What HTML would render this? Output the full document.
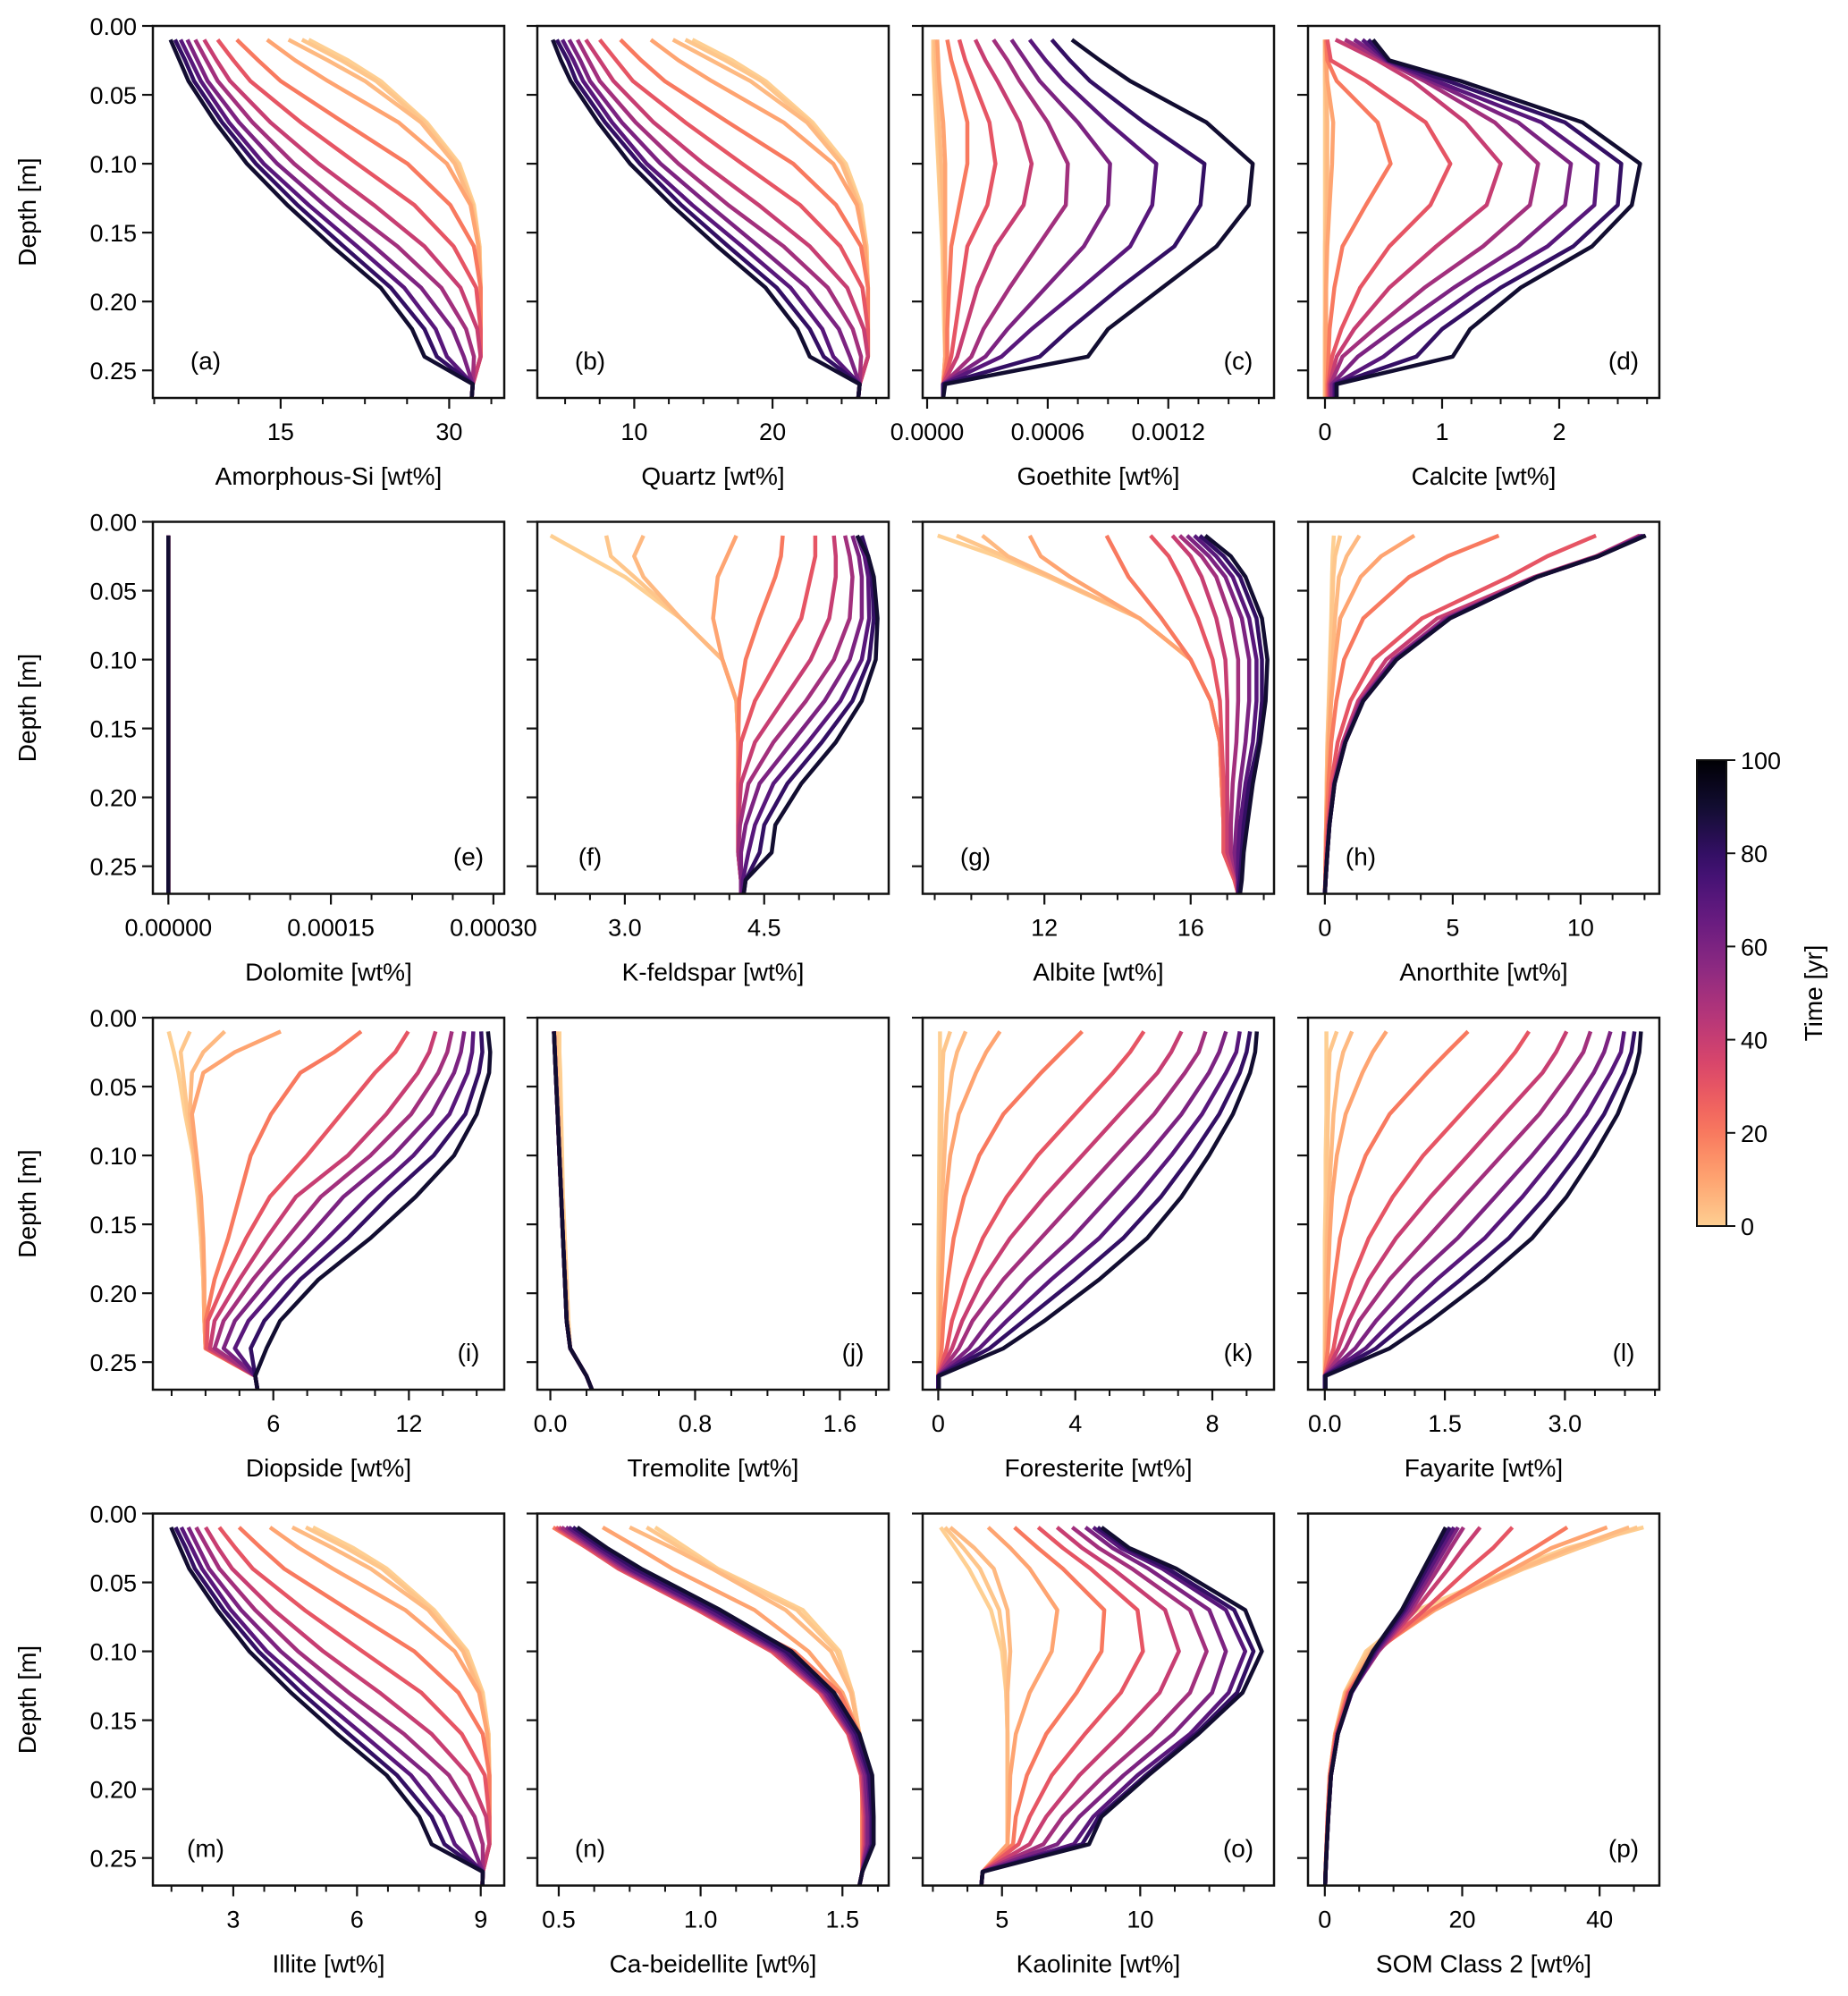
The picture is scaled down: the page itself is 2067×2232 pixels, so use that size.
<!DOCTYPE html>
<html><head><meta charset="utf-8"><title>Mineral depth profiles</title>
<style>
html,body{margin:0;padding:0;background:#fff;}
svg{display:block;font-family:"Liberation Sans",Arial,sans-serif;}
</style></head>
<body>
<svg id="fig" width="2067" height="2232" viewBox="0 0 2067 2232" xmlns="http://www.w3.org/2000/svg"></svg>
<script>
// ---- data ----
const depths = [0.01,0.025,0.04,0.07,0.10,0.13,0.16,0.19,0.22,0.24,0.26,0.27];
const times = [0,2,5,10,20,30,40,50,60,70,80,90];
const cbTicks = [0,20,40,60,80,100];

const amorphousSi = [
[17.5,21.0,23.9,28.0,30.9,32.2,32.7,32.8,32.8,32.8,32.1,32.0],
[16.9,20.4,23.5,27.8,30.7,32.1,32.7,32.8,32.8,32.8,32.1,32.0],
[15.7,19.2,22.5,27.5,30.5,32.0,32.6,32.8,32.8,32.8,32.1,32.0],
[13.8,16.3,19.2,25.5,29.8,31.9,32.6,32.8,32.8,32.8,32.1,32.0],
[11.1,13.0,15.0,20.6,26.3,30.1,32.2,32.8,32.8,32.8,32.1,32.0],
[9.4,10.8,12.3,16.8,21.8,26.9,30.4,32.4,32.8,32.8,32.1,32.0],
[8.2,9.3,10.5,14.1,18.4,23.3,27.8,31.0,32.5,32.8,32.1,32.0],
[7.4,8.4,9.4,12.5,16.2,20.6,25.4,29.3,31.5,32.2,32.1,32.0],
[6.7,7.6,8.5,11.3,14.7,18.9,23.3,27.5,30.3,31.3,32.1,32.0],
[6.1,7.0,7.9,10.4,13.5,17.5,21.8,26.0,28.8,29.8,32.1,32.0],
[5.6,6.5,7.3,9.8,12.8,16.5,20.6,24.8,27.8,28.9,32.1,32.0],
[5.2,6.0,6.8,9.2,12.0,15.6,19.6,23.9,26.7,27.8,32.1,32.0]];
const quartz = [
[14.2,17.1,19.5,22.9,25.3,26.4,26.8,26.9,26.9,26.9,26.3,26.2],
[13.7,16.6,19.2,22.7,25.1,26.3,26.8,26.9,26.9,26.9,26.3,26.2],
[12.8,15.6,18.4,22.5,25.0,26.2,26.7,26.9,26.9,26.9,26.3,26.2],
[11.2,13.2,15.6,20.8,24.4,26.1,26.7,26.9,26.9,26.9,26.3,26.2],
[9.0,10.5,12.2,16.8,21.5,24.6,26.4,26.9,26.9,26.9,26.3,26.2],
[7.5,8.7,9.9,13.7,17.8,22.0,24.9,26.5,26.9,26.9,26.3,26.2],
[6.5,7.5,8.5,11.4,15.0,19.0,22.7,25.4,26.6,26.9,26.3,26.2],
[5.9,6.7,7.5,10.1,13.2,16.8,20.8,24.0,25.8,26.4,26.3,26.2],
[5.3,6.1,6.8,9.1,11.9,15.4,19.0,22.5,24.8,25.6,26.3,26.2],
[4.8,5.6,6.3,8.4,10.9,14.2,17.8,21.3,23.6,24.4,26.3,26.2],
[4.4,5.2,5.8,7.9,10.4,13.4,16.8,20.3,22.7,23.7,26.3,26.2],
[4.1,4.7,5.4,7.4,9.7,12.7,16.0,19.5,21.8,22.7,26.3,26.2]];
// goethite in units of 1e-4 wt%
const goethiteE4 = [
[0.3,0.3,0.35,0.45,0.55,0.65,0.75,0.8,0.85,0.9,0.8,0.8],
[0.3,0.35,0.4,0.5,0.6,0.7,0.8,0.85,0.9,0.9,0.8,0.8],
[0.4,0.45,0.5,0.6,0.7,0.8,0.85,0.9,0.9,0.9,0.8,0.8],
[0.5,0.55,0.6,0.8,0.9,0.9,0.9,0.9,0.9,0.9,0.8,0.8],
[1.0,1.2,1.5,2.0,2.0,1.6,1.2,1.1,1.0,1.0,0.8,0.8],
[1.6,1.9,2.3,3.1,3.4,3.0,2.0,1.7,1.4,1.2,0.8,0.8],
[2.4,2.9,3.5,4.6,5.2,4.8,3.4,2.5,1.9,1.5,0.8,0.8],
[3.3,4.0,4.6,6.0,7.0,6.9,5.5,4.1,2.8,2.2,0.8,0.8],
[4.2,4.9,5.6,7.5,9.1,9.0,7.8,5.9,4.0,2.9,0.8,0.8],
[5.1,5.9,6.8,9.0,11.4,11.2,10.1,7.7,5.2,3.7,0.8,0.8],
[6.2,7.1,8.1,10.8,13.8,13.6,12.3,9.6,7.1,5.6,0.8,0.8],
[7.2,8.6,10.1,13.9,16.2,16.0,14.4,11.7,9.0,8.0,0.9,0.8]];
const calcite = [
[0,0,0,0,0,0,0,0,0,0,0,0],
[0,0,0,0.01,0.01,0.01,0,0,0,0,0,0],
[0,0,0.01,0.02,0.02,0.02,0.01,0.01,0,0,0,0],
[0,0.01,0.02,0.07,0.06,0.04,0.02,0.01,0.01,0.01,0.01,0.01],
[0.01,0.02,0.1,0.45,0.56,0.35,0.15,0.08,0.04,0.03,0.02,0.02],
[0.02,0.05,0.35,0.86,1.07,0.9,0.55,0.3,0.14,0.06,0.03,0.03],
[0.09,0.45,0.75,1.2,1.5,1.38,0.95,0.55,0.25,0.1,0.04,0.04],
[0.17,0.5,0.85,1.45,1.82,1.75,1.35,0.85,0.42,0.15,0.05,0.05],
[0.25,0.52,0.9,1.65,2.1,2.05,1.65,1.1,0.6,0.28,0.06,0.06],
[0.32,0.53,0.95,1.85,2.33,2.3,1.9,1.3,0.8,0.5,0.08,0.08],
[0.37,0.54,1.05,2.05,2.53,2.5,2.12,1.5,1.0,0.78,0.09,0.09],
[0.41,0.55,1.16,2.2,2.69,2.62,2.28,1.67,1.24,1.09,0.1,0.1]];
const dolomite = [
[0,0,0,0,0,0,0,0,0,0,0,0],[0,0,0,0,0,0,0,0,0,0,0,0],[0,0,0,0,0,0,0,0,0,0,0,0],
[0,0,0,0,0,0,0,0,0,0,0,0],[0,0,0,0,0,0,0,0,0,0,0,0],[0,0,0,0,0,0,0,0,0,0,0,0],
[0,0,0,0,0,0,0,0,0,0,0,0],[0,0,0,0,0,0,0,0,0,0,0,0],[0,0,0,0,0,0,0,0,0,0,0,0],
[0,0,0,0,0,0,0,0,0,0,0,0],[0,0,0,0,0,0,0,0,0,0,0,0],[0,0,0,0,0,0,0,0,0,0,0,0]];
const kfeldspar = [
[2.2,2.6,3.0,3.6,4.05,4.2,4.22,4.22,4.22,4.22,4.25,4.25],
[2.8,2.85,3.1,3.6,4.05,4.2,4.22,4.22,4.22,4.22,4.25,4.25],
[3.2,3.1,3.2,3.6,4.05,4.2,4.22,4.22,4.22,4.22,4.25,4.25],
[4.2,4.1,4.0,3.95,4.05,4.2,4.22,4.22,4.22,4.22,4.25,4.25],
[4.7,4.68,4.62,4.45,4.3,4.23,4.22,4.22,4.22,4.22,4.25,4.25],
[5.05,5.05,5.0,4.9,4.65,4.4,4.25,4.22,4.22,4.22,4.25,4.25],
[5.25,5.27,5.27,5.2,5.0,4.7,4.4,4.25,4.22,4.22,4.25,4.25],
[5.37,5.42,5.45,5.42,5.25,4.95,4.6,4.33,4.24,4.22,4.25,4.25],
[5.45,5.52,5.55,5.55,5.42,5.15,4.8,4.45,4.3,4.25,4.25,4.25],
[5.5,5.58,5.62,5.63,5.55,5.32,4.97,4.6,4.4,4.33,4.27,4.27],
[5.55,5.62,5.66,5.68,5.63,5.45,5.12,4.75,4.5,4.45,4.3,4.28],
[5.5,5.62,5.68,5.72,5.7,5.55,5.27,4.9,4.62,4.58,4.3,4.28]];
const albite = [
[9.08,10.7,12.1,14.6,16.0,16.55,16.8,16.85,16.9,16.9,17.2,17.3],
[9.6,10.9,12.1,14.6,16.0,16.55,16.8,16.85,16.9,16.9,17.2,17.3],
[10.3,11.0,12.2,14.6,16.0,16.55,16.8,16.85,16.9,16.9,17.2,17.3],
[11.6,11.9,12.7,14.6,16.0,16.55,16.8,16.85,16.9,16.9,17.2,17.3],
[13.7,14.0,14.3,15.2,16.0,16.55,16.8,16.85,16.9,16.9,17.2,17.3],
[14.9,15.4,15.7,16.2,16.6,16.8,16.85,16.9,16.9,16.9,17.2,17.3],
[15.5,16.0,16.3,16.7,16.95,17.0,17.0,17.0,17.0,17.0,17.25,17.3],
[15.7,16.3,16.7,17.1,17.3,17.3,17.25,17.15,17.1,17.1,17.3,17.3],
[15.9,16.5,16.95,17.4,17.6,17.6,17.5,17.35,17.25,17.2,17.3,17.3],
[16.1,16.7,17.15,17.6,17.8,17.8,17.7,17.5,17.35,17.3,17.3,17.3],
[16.25,16.9,17.35,17.8,17.95,17.95,17.85,17.6,17.45,17.4,17.35,17.3],
[16.4,17.1,17.5,17.95,18.1,18.05,17.9,17.7,17.55,17.45,17.4,17.35]];
const anorthite = [
[0.35,0.3,0.28,0.25,0.2,0.15,0.1,0.07,0.05,0.03,0.02,0],
[0.6,0.4,0.33,0.28,0.22,0.16,0.1,0.07,0.05,0.03,0.02,0],
[1.35,0.85,0.55,0.4,0.3,0.2,0.12,0.08,0.05,0.03,0.02,0],
[3.5,2.2,1.4,0.6,0.4,0.25,0.15,0.1,0.05,0.03,0.02,0],
[6.8,4.8,3.3,1.5,0.75,0.45,0.25,0.14,0.07,0.04,0.02,0],
[10.6,8.7,7.2,3.8,1.9,1.0,0.5,0.25,0.12,0.06,0.02,0],
[12.3,10.6,8.2,4.4,2.4,1.3,0.7,0.33,0.16,0.09,0.03,0],
[12.35,10.65,8.25,4.7,2.65,1.4,0.75,0.36,0.17,0.1,0.03,0],
[12.4,10.7,8.3,4.8,2.7,1.45,0.78,0.37,0.18,0.1,0.03,0],
[12.45,10.7,8.3,4.85,2.75,1.48,0.8,0.38,0.18,0.1,0.03,0],
[12.5,10.7,8.3,4.9,2.8,1.5,0.8,0.38,0.18,0.1,0.03,0],
[12.55,10.7,8.3,4.9,2.8,1.5,0.8,0.38,0.18,0.1,0.03,0]];
const diopside = [
[1.37,1.6,1.8,2.1,2.45,2.65,2.8,2.9,2.95,3.0,5.2,5.3],
[2.31,1.9,2.0,2.2,2.5,2.7,2.8,2.9,2.95,3.0,5.2,5.3],
[3.85,2.9,2.4,2.3,2.5,2.7,2.85,2.9,2.95,3.0,5.2,5.3],
[6.33,4.3,2.9,2.4,2.6,2.8,2.9,2.95,2.95,3.0,5.2,5.3],
[9.89,8.7,7.2,5.9,5.0,4.5,4.0,3.4,3.0,3.0,5.2,5.3],
[11.97,11.4,10.5,9.0,7.5,5.85,4.8,3.9,3.1,3.05,5.2,5.3],
[13.18,12.9,12.4,11.0,9.3,7.0,5.7,4.5,3.4,3.2,5.2,5.3],
[13.9,13.7,13.3,12.1,10.3,8.1,6.6,5.1,3.8,3.4,5.2,5.3],
[14.45,14.3,14.0,13.0,11.3,9.1,7.5,5.8,4.3,3.8,5.2,5.3],
[14.85,14.8,14.6,13.8,12.2,10.2,8.4,6.5,4.9,4.3,5.2,5.3],
[15.2,15.25,15.1,14.5,13.1,11.1,9.3,7.2,5.6,5.0,5.2,5.3],
[15.5,15.6,15.55,15.0,14.0,12.3,10.3,8.0,6.3,5.7,5.2,5.3]];
const tremolite = [
[0.05,0.05,0.055,0.06,0.065,0.07,0.08,0.09,0.1,0.11,0.2,0.23],
[0.035,0.035,0.04,0.05,0.055,0.065,0.075,0.085,0.095,0.11,0.2,0.23],
[0.025,0.03,0.035,0.045,0.05,0.06,0.07,0.08,0.09,0.11,0.2,0.23],
[0.02,0.025,0.03,0.04,0.05,0.06,0.07,0.08,0.09,0.11,0.2,0.23],
[0.02,0.025,0.03,0.04,0.05,0.06,0.07,0.08,0.09,0.11,0.2,0.23],
[0.02,0.025,0.03,0.04,0.05,0.06,0.07,0.08,0.09,0.11,0.2,0.23],
[0.02,0.025,0.03,0.04,0.05,0.06,0.07,0.08,0.09,0.11,0.2,0.23],
[0.02,0.025,0.03,0.04,0.05,0.06,0.07,0.08,0.09,0.11,0.2,0.23],
[0.02,0.025,0.03,0.04,0.05,0.06,0.07,0.08,0.09,0.11,0.2,0.23],
[0.02,0.025,0.03,0.04,0.05,0.06,0.07,0.08,0.09,0.11,0.2,0.23],
[0.02,0.025,0.03,0.04,0.05,0.06,0.07,0.08,0.09,0.11,0.2,0.23],
[0.02,0.025,0.03,0.04,0.05,0.06,0.07,0.08,0.09,0.11,0.2,0.23]];
const foresterite = [
[0.05,0.05,0.05,0.04,0.03,0.02,0.01,0,0,0,0,0],
[0.35,0.15,0.12,0.1,0.08,0.06,0.04,0.03,0.02,0.01,0,0],
[0.8,0.55,0.4,0.25,0.18,0.12,0.08,0.05,0.03,0.02,0,0],
[1.8,1.4,1.1,0.6,0.35,0.22,0.15,0.1,0.06,0.04,0,0],
[4.2,3.6,3.0,1.9,1.2,0.75,0.45,0.28,0.15,0.1,0,0],
[6.0,5.6,5.1,4.0,2.9,2.0,1.3,0.8,0.4,0.25,0,0],
[7.1,6.8,6.4,5.3,4.2,3.1,2.1,1.3,0.7,0.4,0,0],
[7.8,7.6,7.2,6.3,5.2,4.1,3.0,1.9,1.0,0.6,0,0],
[8.4,8.2,7.9,7.1,6.1,5.0,3.9,2.6,1.5,0.9,0,0],
[8.8,8.7,8.4,7.7,6.8,5.8,4.7,3.3,2.0,1.2,0,0],
[9.1,9.0,8.8,8.2,7.4,6.5,5.4,4.0,2.5,1.5,0,0],
[9.3,9.25,9.1,8.6,7.9,7.1,6.1,4.7,3.1,1.9,0.02,0.02]];
const fayarite = [
[0.02,0.02,0.02,0.02,0.01,0.01,0,0,0,0,0,0],
[0.15,0.06,0.05,0.04,0.03,0.03,0.02,0.01,0.01,0,0,0],
[0.34,0.23,0.17,0.11,0.08,0.05,0.03,0.02,0.01,0.01,0,0],
[0.77,0.6,0.47,0.26,0.15,0.09,0.06,0.04,0.03,0.02,0,0],
[1.79,1.53,1.28,0.81,0.51,0.32,0.19,0.12,0.06,0.04,0,0],
[2.55,2.38,2.17,1.7,1.23,0.85,0.55,0.34,0.17,0.11,0,0],
[3.02,2.89,2.72,2.25,1.79,1.32,0.89,0.55,0.3,0.17,0,0],
[3.32,3.23,3.06,2.68,2.21,1.74,1.28,0.81,0.43,0.26,0,0],
[3.57,3.49,3.36,3.02,2.59,2.13,1.66,1.1,0.64,0.38,0,0],
[3.74,3.7,3.57,3.27,2.89,2.47,2.0,1.4,0.85,0.51,0,0],
[3.87,3.83,3.74,3.49,3.15,2.76,2.3,1.7,1.06,0.64,0,0],
[3.95,3.93,3.87,3.66,3.36,3.02,2.59,2.0,1.32,0.81,0.01,0.01]];
const illite = [
[4.93,5.91,6.72,7.87,8.68,9.05,9.19,9.21,9.21,9.21,9.05,9.04],
[4.76,5.74,6.61,7.81,8.63,9.02,9.19,9.21,9.21,9.21,9.05,9.04],
[4.43,5.41,6.33,7.73,8.57,8.99,9.16,9.21,9.21,9.21,9.05,9.04],
[3.89,4.59,5.41,7.17,8.37,8.96,9.16,9.21,9.21,9.21,9.05,9.04],
[3.14,3.67,4.23,5.80,7.39,8.46,9.05,9.21,9.21,9.21,9.05,9.04],
[2.66,3.05,3.47,4.73,6.13,7.56,8.54,9.10,9.21,9.21,9.05,9.04],
[2.33,2.63,2.97,3.98,5.18,6.55,7.81,8.71,9.13,9.21,9.05,9.04],
[2.10,2.38,2.66,3.53,4.57,5.80,7.14,8.23,8.85,9.05,9.05,9.04],
[1.91,2.16,2.41,3.19,4.15,5.32,6.55,7.73,8.51,8.79,9.05,9.04],
[1.74,1.99,2.24,2.94,3.81,4.93,6.13,7.31,8.09,8.37,9.05,9.04],
[1.60,1.85,2.07,2.77,3.61,4.65,5.80,6.97,7.81,8.12,9.05,9.04],
[1.49,1.71,1.93,2.61,3.39,4.40,5.52,6.72,7.51,7.81,9.05,9.04]];
const caBeidellite = [
[0.84,0.95,1.06,1.36,1.49,1.535,1.56,1.57,1.57,1.57,1.57,1.56],
[0.81,0.93,1.05,1.34,1.48,1.535,1.56,1.57,1.57,1.57,1.57,1.56],
[0.75,0.9,1.04,1.3,1.46,1.53,1.56,1.57,1.57,1.57,1.57,1.56],
[0.655,0.78,0.9,1.19,1.38,1.5,1.56,1.57,1.57,1.57,1.57,1.56],
[0.48,0.6,0.72,1.04,1.33,1.49,1.56,1.57,1.57,1.57,1.57,1.56],
[0.49,0.6,0.71,0.99,1.25,1.42,1.52,1.565,1.575,1.575,1.57,1.56],
[0.50,0.61,0.72,1.0,1.26,1.43,1.525,1.57,1.58,1.58,1.57,1.56],
[0.51,0.62,0.73,1.01,1.27,1.435,1.53,1.575,1.585,1.585,1.57,1.56],
[0.525,0.63,0.74,1.02,1.28,1.44,1.535,1.58,1.59,1.59,1.57,1.56],
[0.535,0.64,0.75,1.03,1.29,1.45,1.54,1.59,1.6,1.6,1.57,1.56],
[0.55,0.655,0.77,1.05,1.30,1.46,1.55,1.595,1.605,1.605,1.57,1.56],
[0.565,0.67,0.79,1.07,1.32,1.47,1.56,1.605,1.61,1.61,1.57,1.56]];
const kaolinite = [
[2.78,3.3,3.8,4.6,5.0,5.15,5.2,5.2,5.2,5.2,4.3,4.25],
[2.94,3.6,4.2,4.9,5.1,5.15,5.2,5.2,5.2,5.2,4.3,4.25],
[3.13,4.0,4.7,5.2,5.3,5.2,5.2,5.2,5.2,5.2,4.3,4.25],
[4.5,5.3,6.0,7.0,6.8,6.0,5.5,5.3,5.25,5.2,4.3,4.25],
[5.45,6.3,7.2,8.7,8.6,7.7,6.6,5.9,5.5,5.4,4.3,4.25],
[6.31,7.2,8.2,9.9,10.1,9.3,8.0,6.8,6.0,5.6,4.3,4.25],
[6.99,7.9,9.0,10.9,11.4,10.7,9.3,7.8,6.6,6.0,4.3,4.25],
[7.54,8.5,9.7,11.8,12.4,11.8,10.4,8.7,7.2,6.5,4.3,4.25],
[8.02,9.0,10.3,12.5,13.1,12.6,11.2,9.4,7.8,7.0,4.3,4.25],
[8.3,9.3,10.8,13.1,13.8,13.2,11.8,9.9,8.3,7.6,4.3,4.25],
[8.46,9.5,11.0,13.4,14.1,13.5,12.0,10.2,8.5,7.9,4.3,4.25],
[8.6,9.6,11.3,13.8,14.4,13.7,12.1,10.3,8.6,8.15,4.3,4.25]];
const somClass2 = [
[46.4,35.3,27.5,13.5,6.0,2.9,1.5,0.7,0.4,0.25,0.1,0.05],
[45.5,37.0,29.0,15.0,6.3,3.0,1.5,0.7,0.4,0.25,0.1,0.05],
[44.3,36.0,28.5,15.5,6.6,3.0,1.5,0.7,0.4,0.25,0.1,0.05],
[41.1,33.0,27.5,16.0,7.0,3.1,1.5,0.7,0.4,0.25,0.1,0.05],
[35.3,30.5,25.5,15.5,7.3,3.3,1.6,0.75,0.4,0.25,0.1,0.05],
[27.3,24.5,21.0,14.5,7.6,3.5,1.7,0.8,0.45,0.28,0.12,0.05],
[22.6,20.2,18.0,13.2,7.8,3.7,1.8,0.85,0.45,0.3,0.12,0.05],
[20.2,18.3,16.5,12.6,7.8,3.8,1.9,0.9,0.5,0.3,0.12,0.05],
[19.4,17.6,15.8,12.2,7.6,3.9,1.9,0.9,0.5,0.3,0.12,0.05],
[18.8,17.0,15.3,11.8,7.4,3.9,1.9,0.9,0.5,0.3,0.12,0.05],
[18.2,16.5,14.8,11.5,7.2,3.9,1.9,0.9,0.5,0.3,0.12,0.05],
[17.6,16.0,14.4,11.2,7.0,3.8,1.9,0.9,0.5,0.3,0.12,0.05]];

// tick values / labels per panel
const ticksA=[15,30], labelsA=["15","30"];
const ticksB=[10,20], labelsB=["10","20"];
const ticksC=[0,0.0006,0.0012], labelsC=["0.0000","0.0006","0.0012"];
const ticksD=[0,1,2], labelsD=["0","1","2"];
const ticksE=[0,0.00015,0.0003], labelsE=["0.00000","0.00015","0.00030"];
const ticksF=[3.0,4.5], labelsF=["3.0","4.5"];
const ticksG=[12,16], labelsG=["12","16"];
const ticksH=[0,5,10], labelsH=["0","5","10"];
const ticksI=[6,12], labelsI=["6","12"];
const ticksJ=[0,0.8,1.6], labelsJ=["0.0","0.8","1.6"];
const ticksK=[0,4,8], labelsK=["0","4","8"];
const ticksL=[0,1.5,3.0], labelsL=["0.0","1.5","3.0"];
const ticksM=[3,6,9], labelsM=["3","6","9"];
const ticksN=[0.5,1.0,1.5], labelsN=["0.5","1.0","1.5"];
const ticksO=[5,10], labelsO=["5","10"];
const ticksP=[0,20,40], labelsP=["0","20","40"];
const depthTicks=[0,0.05,0.10,0.15,0.20,0.25], depthLabels=["0.00","0.05","0.10","0.15","0.20","0.25"];

// ---- layout ----
const colL=[171,601,1032,1463], rowT=[29,583.5,1138,1692.5], W=393, H=416, DMAX=0.27;
const panels=[
 {n:'amorphous-si',d:amorphousSi,s:1,x0:3.63,x1:34.9,t:ticksA,l:labelsA,m:3.75,title:'Amorphous-Si [wt%]',tag:'(a)',r:false},
 {n:'quartz',d:quartz,s:1,x0:2.99,x1:28.4,t:ticksB,l:labelsB,m:2.5,title:'Quartz [wt%]',tag:'(b)',r:false},
 {n:'goethite',d:goethiteE4,s:1e-4,x0:-0.0000223,x1:0.001726,t:ticksC,l:labelsC,m:0.00015,title:'Goethite [wt%]',tag:'(c)',r:true},
 {n:'calcite',d:calcite,s:1,x0:-0.145,x1:2.855,t:ticksD,l:labelsD,m:0.25,title:'Calcite [wt%]',tag:'(d)',r:true},
 {n:'dolomite',d:dolomite,s:1,x0:-0.0000143,x1:0.00031,t:ticksE,l:labelsE,m:0.0000375,title:'Dolomite [wt%]',tag:'(e)',r:true},
 {n:'k-feldspar',d:kfeldspar,s:1,x0:2.058,x1:5.84,t:ticksF,l:labelsF,m:0.375,title:'K-feldspar [wt%]',tag:'(f)',r:false},
 {n:'albite',d:albite,s:1,x0:8.67,x1:18.28,t:ticksG,l:labelsG,m:1,title:'Albite [wt%]',tag:'(g)',r:false},
 {n:'anorthite',d:anorthite,s:1,x0:-0.66,x1:13.08,t:ticksH,l:labelsH,m:1.25,title:'Anorthite [wt%]',tag:'(h)',r:false},
 {n:'diopside',d:diopside,s:1,x0:0.67,x1:16.22,t:ticksI,l:labelsI,m:1.5,title:'Diopside [wt%]',tag:'(i)',r:true},
 {n:'tremolite',d:tremolite,s:1,x0:-0.072,x1:1.87,t:ticksJ,l:labelsJ,m:0.2,title:'Tremolite [wt%]',tag:'(j)',r:true},
 {n:'foresterite',d:foresterite,s:1,x0:-0.455,x1:9.8,t:ticksK,l:labelsK,m:1,title:'Foresterite [wt%]',tag:'(k)',r:true},
 {n:'fayarite',d:fayarite,s:1,x0:-0.21,x1:4.18,t:ticksL,l:labelsL,m:0.375,title:'Fayarite [wt%]',tag:'(l)',r:true},
 {n:'illite',d:illite,s:1,x0:1.05,x1:9.57,t:ticksM,l:labelsM,m:0.75,title:'Illite [wt%]',tag:'(m)',r:false},
 {n:'ca-beidellite',d:caBeidellite,s:1,x0:0.4245,x1:1.663,t:ticksN,l:labelsN,m:0.125,title:'Ca-beidellite [wt%]',tag:'(n)',r:false},
 {n:'kaolinite',d:kaolinite,s:1,x0:2.13,x1:14.84,t:ticksO,l:labelsO,m:1.25,title:'Kaolinite [wt%]',tag:'(o)',r:true},
 {n:'som-class-2',d:somClass2,s:1,x0:-2.45,x1:48.7,t:ticksP,l:labelsP,m:5,title:'SOM Class 2 [wt%]',tag:'(p)',r:true}
];

const magma=['#000004','#140e36','#3b0f70','#641a80','#8c2981','#b73779','#de4968','#f7705c','#fe9f6d','#fecf92','#fcfdbf'];
function hex(c){return [parseInt(c.substr(1,2),16),parseInt(c.substr(3,2),16),parseInt(c.substr(5,2),16)];}
function cmap(f){f=Math.max(0,Math.min(1,f));const p=f*10,i=Math.min(9,Math.floor(p)),u=p-i;const a=hex(magma[i]),b=hex(magma[i+1]);
 return 'rgb('+a.map((v,k)=>Math.round(v+(b[k]-v)*u)).join(',')+')';}
function timeColor(t){return cmap(0.9*(1-t/100));}

const NS='http://www.w3.org/2000/svg';
const svg=document.getElementById('fig');
function el(tag,attrs,parent){const e=document.createElementNS(NS,tag);for(const k in attrs)e.setAttribute(k,attrs[k]);(parent||svg).appendChild(e);return e;}

const defs=el('defs',{});
panels.forEach((p,pi)=>{
 const col=pi%4,row=Math.floor(pi/4),L=colL[col],T=rowT[row];
 const X=v=>L+(v*p.s-p.x0)/(p.x1-p.x0)*W;
 const Y=d=>T+d/DMAX*H;
 const g=el('g',{});
 
 
 const cp=el('clipPath',{id:'clip'+pi},defs);
 el('rect',{x:L,y:T,width:W,height:H},cp);
 const lg=el('g',{'clip-path':'url(#clip'+pi+')'},g);
 
 
 p.d.forEach((row,ci)=>{
  const pts=row.map((v,k)=>X(v).toFixed(1)+','+Y(depths[k]).toFixed(1)).join(' ');
  const pl=el('polyline',{points:pts,fill:'none',stroke:timeColor(times[ci]),'stroke-width':4.5,'stroke-linejoin':'round','stroke-linecap':'butt'},lg);
  
  
 });
 const box=el('rect',{x:L,y:T,width:W,height:H,fill:'none',stroke:'#111','stroke-width':2.5},g);
 
 
 const start=Math.ceil(p.x0/p.m-1e-9);
 for(let k=start;k*p.m<=p.x1+1e-12;k++){
  const v=k*p.m;
  if(p.t.some(tv=>Math.abs(tv-v)<p.m*1e-3))continue;
  const x=L+(v-p.x0)/(p.x1-p.x0)*W;
  el('line',{x1:x,y1:T+H,x2:x,y2:T+H+7,stroke:'#111','stroke-width':2},g);
 }
 p.t.forEach((v,k)=>{
  const x=L+(v-p.x0)/(p.x1-p.x0)*W;
  el('line',{x1:x,y1:T+H,x2:x,y2:T+H+12,stroke:'#111','stroke-width':2.2},g);
  const tx=el('text',{x:x,y:T+H+47,'font-size':27,'text-anchor':'middle',fill:'#000'},g);
  tx.textContent=p.l[k];
  
  
 });
 depthTicks.forEach((d,k)=>{
  const y=Y(d);
  el('line',{x1:L-12,y1:y,x2:L,y2:y,stroke:'#111','stroke-width':2.2},g);
  if(col===0){
   const ty=el('text',{x:L-18,y:y+10,'font-size':27,'text-anchor':'end',fill:'#000'},g);
   ty.textContent=depthLabels[k];
   
   
  }
 });
 const xt=el('text',{x:L+W/2,y:T+H+97,'font-size':28,'text-anchor':'middle',fill:'#000'},g);
 xt.textContent=p.title;
 
 
 const tg=el('text',{x:p.r?L+W-40:L+59,y:T+H-32,'font-size':28,'text-anchor':'middle',fill:'#000'},g);
 tg.textContent=p.tag;
 
 
 if(col===0){
  const yt=el('text',{x:0,y:0,'font-size':28,'text-anchor':'middle',fill:'#000',transform:'translate(40,'+(T+H/2)+') rotate(-90)'},g);
  yt.textContent='Depth [m]';
  
  
 }
});

// colorbar
const CBX=1898,CBW=33,CBT=850,CBB=1371;
const grad=el('linearGradient',{id:'cbg',x1:0,y1:1,x2:0,y2:0},defs);
for(let k=0;k<=20;k++){el('stop',{offset:(k/20),'stop-color':timeColor(k*5)},grad);}
const cb=el('g',{});


el('rect',{x:CBX,y:CBT,width:CBW,height:CBB-CBT,fill:'url(#cbg)',stroke:'#111','stroke-width':2},cb);
cbTicks.forEach(t=>{
 const y=CBB-(t/100)*(CBB-CBT);
 el('line',{x1:CBX+CBW,y1:y,x2:CBX+CBW+10,y2:y,stroke:'#111','stroke-width':2},cb);
 const tx=el('text',{x:CBX+CBW+16,y:y+10,'font-size':27,fill:'#000'},cb);
 tx.textContent=String(t);
 
 
});
const cbt=el('text',{x:0,y:0,'font-size':28,'text-anchor':'middle',fill:'#000',transform:'translate(2038,'+((CBT+CBB)/2)+') rotate(-90)'},cb);
cbt.textContent='Time [yr]';


</script>
</body></html>
